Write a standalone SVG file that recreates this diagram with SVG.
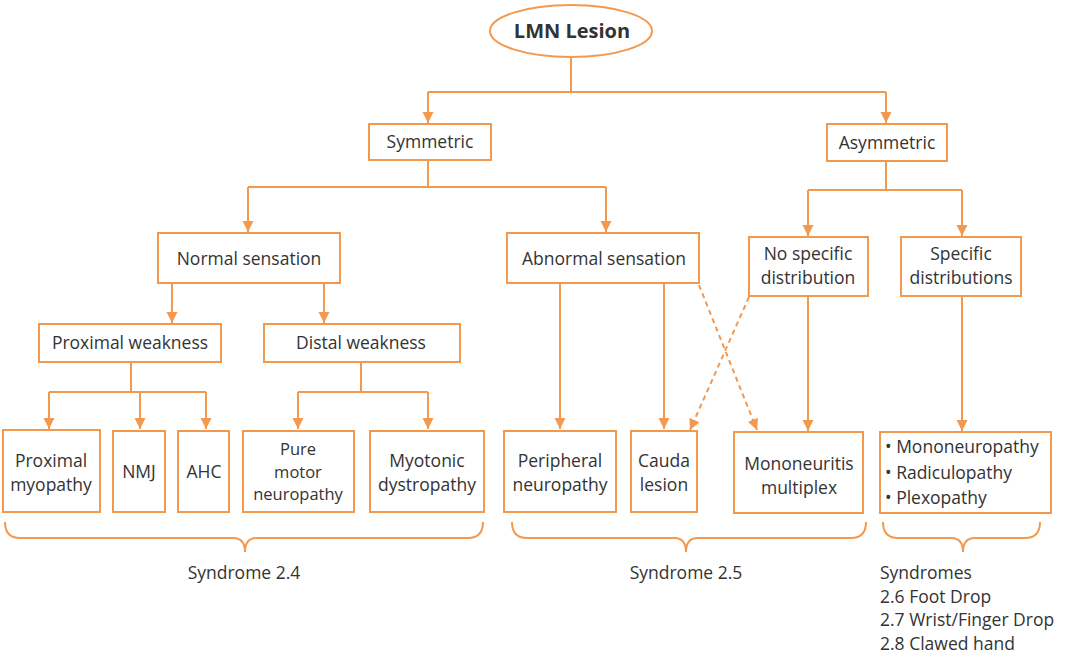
<svg xmlns="http://www.w3.org/2000/svg" width="1067" height="659" viewBox="0 0 1067 659">
<style>
.b{fill:#fff;stroke:#F3994F;stroke-width:2}
.l{fill:none;stroke:#F3994F;stroke-width:2}
.d{fill:none;stroke:#F3994F;stroke-width:2;stroke-dasharray:5,4}
.t{font-family:"Open Sans","Liberation Sans",sans-serif;font-size:17.5px;fill:#333;text-anchor:middle}
.s{text-anchor:start}
</style>
<defs>
<marker id="a" markerUnits="userSpaceOnUse" markerWidth="12" markerHeight="12" refX="11" refY="6" orient="auto">
<path d="M0,0.5 L11,6 L0,11.5 z" fill="#F3994F"/>
</marker>
</defs>
<rect width="1067" height="659" fill="#fff"/>
<g id="connectors">
<path class="l" d="M571,58 V92 M428,92 H886"/>
<path class="l" d="M428,92 V123" marker-end="url(#a)"/>
<path class="l" d="M886,92 V123" marker-end="url(#a)"/>
<path class="l" d="M428,160 V187 M248,187 H606"/>
<path class="l" d="M248,187 V232" marker-end="url(#a)"/>
<path class="l" d="M606,187 V232" marker-end="url(#a)"/>
<path class="l" d="M886,161 V190 M808,190 H962"/>
<path class="l" d="M808,190 V236" marker-end="url(#a)"/>
<path class="l" d="M962,190 V236" marker-end="url(#a)"/>
<path class="l" d="M172,283 V323" marker-end="url(#a)"/>
<path class="l" d="M324,283 V323" marker-end="url(#a)"/>
<path class="l" d="M131,362 V392 M49,392 H206"/>
<path class="l" d="M49,392 V429" marker-end="url(#a)"/>
<path class="l" d="M140,392 V429" marker-end="url(#a)"/>
<path class="l" d="M206,392 V429" marker-end="url(#a)"/>
<path class="l" d="M361,362 V392 M298,392 H428"/>
<path class="l" d="M298,392 V429" marker-end="url(#a)"/>
<path class="l" d="M428,392 V429" marker-end="url(#a)"/>
<path class="l" d="M560,283 V429" marker-end="url(#a)"/>
<path class="l" d="M664,283 V429" marker-end="url(#a)"/>
<path class="d" d="M699,285 L757,430" marker-end="url(#a)"/>
<path class="d" d="M749,297 L690,430" marker-end="url(#a)"/>
<path class="l" d="M808,296 V431" marker-end="url(#a)"/>
<path class="l" d="M962,296 V431" marker-end="url(#a)"/>
<path class="l" d="M5,522 Q5,538 20,538 L233,538 Q245,538 245,552 Q245,538 257,538 L468,538 Q483,538 483,522"/>
<path class="l" d="M512,522 Q512,538 527,538 L674,538 Q686,538 686,552 Q686,538 698,538 L851,538 Q866,538 866,522"/>
<path class="l" d="M883,522 Q883,538 898,538 L951,538 Q963,538 963,552 Q963,538 975,538 L1025,538 Q1040,538 1040,522"/>
</g>
<g id="lmn"><ellipse class="b" cx="571" cy="31" rx="81" ry="26"/><text class="t" x="572" y="38" style="font-weight:bold;font-size:20px">LMN Lesion</text></g>
<g id="symmetric"><rect class="b" x="369" y="124" width="122" height="36"/><text class="t" x="430" y="148">Symmetric</text></g>
<g id="asymmetric"><rect class="b" x="827" y="124" width="120" height="37"/><text class="t" x="887" y="149">Asymmetric</text></g>
<g id="normal"><rect class="b" x="158" y="233" width="182" height="50"/><text class="t" x="249" y="265">Normal sensation</text></g>
<g id="abnormal"><rect class="b" x="507" y="233" width="192" height="50"/><text class="t" x="604" y="265">Abnormal sensation</text></g>
<g id="nospecific"><rect class="b" x="749" y="237" width="119" height="59"/><text class="t" x="808" y="260">No specific<tspan x="808" dy="24">distribution</tspan></text></g>
<g id="specific"><rect class="b" x="901" y="237" width="120" height="59"/><text class="t" x="961" y="260">Specific<tspan x="961" dy="24">distributions</tspan></text></g>
<g id="proximal"><rect class="b" x="39" y="324" width="182" height="38"/><text class="t" x="130" y="349">Proximal weakness</text></g>
<g id="distal"><rect class="b" x="264" y="324" width="196" height="38"/><text class="t" x="361" y="349">Distal weakness</text></g>
<g id="proxmyo"><rect class="b" x="3" y="430" width="97" height="82"/><text class="t" x="51" y="467">Proximal<tspan x="51" dy="24">myopathy</tspan></text></g>
<g id="nmj"><rect class="b" x="113" y="431" width="52" height="81"/><text class="t" x="139" y="478">NMJ</text></g>
<g id="ahc"><rect class="b" x="178" y="431" width="51" height="81"/><text class="t" x="204" y="478">AHC</text></g>
<g id="puremotor"><rect class="b" x="243" y="431" width="111" height="81"/><text class="t" x="298" y="455" style="font-size:16.5px">Pure<tspan x="298" dy="22.5">motor</tspan><tspan x="298" dy="22.5">neuropathy</tspan></text></g>
<g id="myotonic"><rect class="b" x="370" y="431" width="114" height="81"/><text class="t" x="427" y="467">Myotonic<tspan x="427" dy="24">dystropathy</tspan></text></g>
<g id="peripheral"><rect class="b" x="504" y="431" width="112" height="81"/><text class="t" x="560" y="467">Peripheral<tspan x="560" dy="24">neuropathy</tspan></text></g>
<g id="cauda"><rect class="b" x="631" y="431" width="66" height="81"/><text class="t" x="664" y="467">Cauda<tspan x="664" dy="24">lesion</tspan></text></g>
<g id="mononeuritis"><rect class="b" x="734" y="432" width="129" height="81"/><text class="t" x="799" y="470">Mononeuritis<tspan x="799" dy="24">multiplex</tspan></text></g>
<g id="mono"><rect class="b" x="880" y="432" width="171" height="81"/><text class="t s" x="885" y="453">• Mononeuropathy<tspan x="885" dy="26">• Radiculopathy</tspan><tspan x="885" dy="25">• Plexopathy</tspan></text></g>
<g id="labels">
<text class="t" x="244" y="579">Syndrome 2.4</text>
<text class="t" x="686" y="579">Syndrome 2.5</text>
<text class="t s" x="880" y="579">Syndromes<tspan x="880" dy="23.5">2.6 Foot Drop</tspan><tspan x="880" dy="23.5">2.7 Wrist/Finger Drop</tspan><tspan x="880" dy="23.5">2.8 Clawed hand</tspan></text>
</g>
</svg>
